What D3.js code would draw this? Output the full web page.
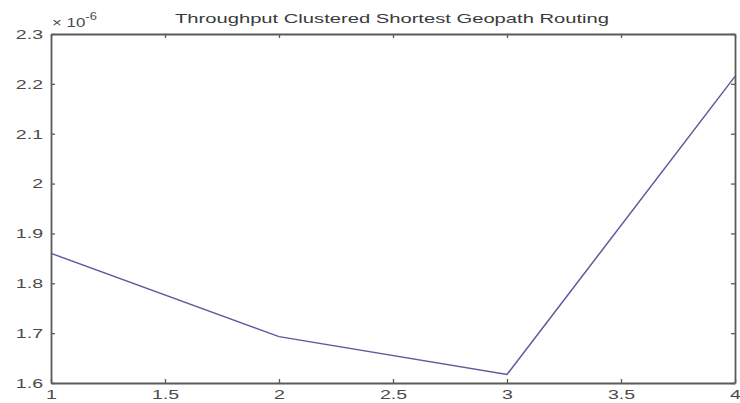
<!DOCTYPE html>
<html>
<head>
<meta charset="utf-8">
<script src="https://cdn.jsdelivr.net/npm/d3@7"></script>
<style>
  html, body { margin: 0; padding: 0; background: #fff; }
  svg { display: block; }
</style>
</head>
<body>
<svg id="chart" width="740" height="403"></svg>
<script>
// Throughput values (×10^-6) per cluster configuration
const xValues = [1, 2, 3, 4];
const throughput = [1.860, 1.693, 1.617, 2.215];
const xTicks = [1, 1.5, 2, 2.5, 3, 3.5, 4];
const yTicks = [1.6, 1.7, 1.8, 1.9, 2.0, 2.1, 2.2, 2.3];
const titleText = "Throughput Clustered Shortest Geopath Routing";

const W = 740, H = 403;
const m = { left: 51, right: 5, top: 34, bottom: 20 };
const svg = d3.select("#chart");

const x = d3.scaleLinear().domain([1, 4]).range([m.left, W - m.right]);
const y = d3.scaleLinear().domain([1.6, 2.3]).range([H - m.bottom, m.top]);

const axisColor = "#5a5a5a";
const textColor = "#4a4a4a";
const font = "Liberation Sans, Arial, sans-serif";
const stretch = 1.45; // wide, horizontally stretched lettering

// data line
svg.append("path")
  .datum(xValues.map((d, i) => [d, throughput[i]]))
  .attr("fill", "none")
  .attr("stroke", "#5b5b9c")
  .attr("stroke-width", 1.5)
  .attr("d", d3.line().x(d => x(d[0])).y(d => y(d[1])));

// MATLAB-style boxed axes with inward ticks on all sides
const fmtY = d => d3.format("")(+d.toFixed(1));
const fmtX = d => d3.format("")(d);

const axisBottomG = svg.append("g").attr("transform", `translate(0,${H - m.bottom})`)
  .call(d3.axisBottom(x).tickValues(xTicks).tickFormat(fmtX).tickSizeInner(-4).tickSizeOuter(0).tickPadding(6));
const axisTopG = svg.append("g").attr("transform", `translate(0,${m.top})`)
  .call(d3.axisTop(x).tickValues(xTicks).tickFormat("").tickSizeInner(-4).tickSizeOuter(0));
const axisLeftG = svg.append("g").attr("transform", `translate(${m.left},0)`)
  .call(d3.axisLeft(y).tickValues(yTicks).tickFormat(fmtY).tickSizeInner(-4).tickSizeOuter(0).tickPadding(5.5));
const axisRightG = svg.append("g").attr("transform", `translate(${W - m.right},0)`)
  .call(d3.axisRight(y).tickValues(yTicks).tickFormat("").tickSizeInner(-4).tickSizeOuter(0));

[axisBottomG, axisTopG, axisLeftG, axisRightG].forEach(g => {
  g.select(".domain").attr("stroke", axisColor).attr("stroke-width", 1.8);
  g.selectAll(".tick line").attr("stroke", axisColor).attr("stroke-width", 1.3);
  g.selectAll("text")
    .attr("fill", textColor)
    .attr("font-family", font)
    .attr("font-size", 13.5)
    .attr("transform", `scale(${stretch},1)`);
});

// exponent label
const expo = svg.append("text")
  .attr("transform", `translate(${m.left + 1},27) scale(1.3,1)`)
  .attr("font-family", font).attr("font-size", 13).attr("fill", textColor);
expo.append("tspan").text("× 10");
expo.append("tspan").attr("dy", -7).attr("font-size", 10).text("-6");

// title
svg.append("text")
  .attr("x", (x(1) + x(4)) / 2 - 1).attr("y", 23)
  .attr("text-anchor", "middle")
  .attr("font-family", font).attr("font-size", 13)
  .attr("fill", "#3a3a3a")
  .attr("textLength", 434)
  .attr("lengthAdjust", "spacingAndGlyphs")
  .text(titleText);
</script>
</body>
</html>
